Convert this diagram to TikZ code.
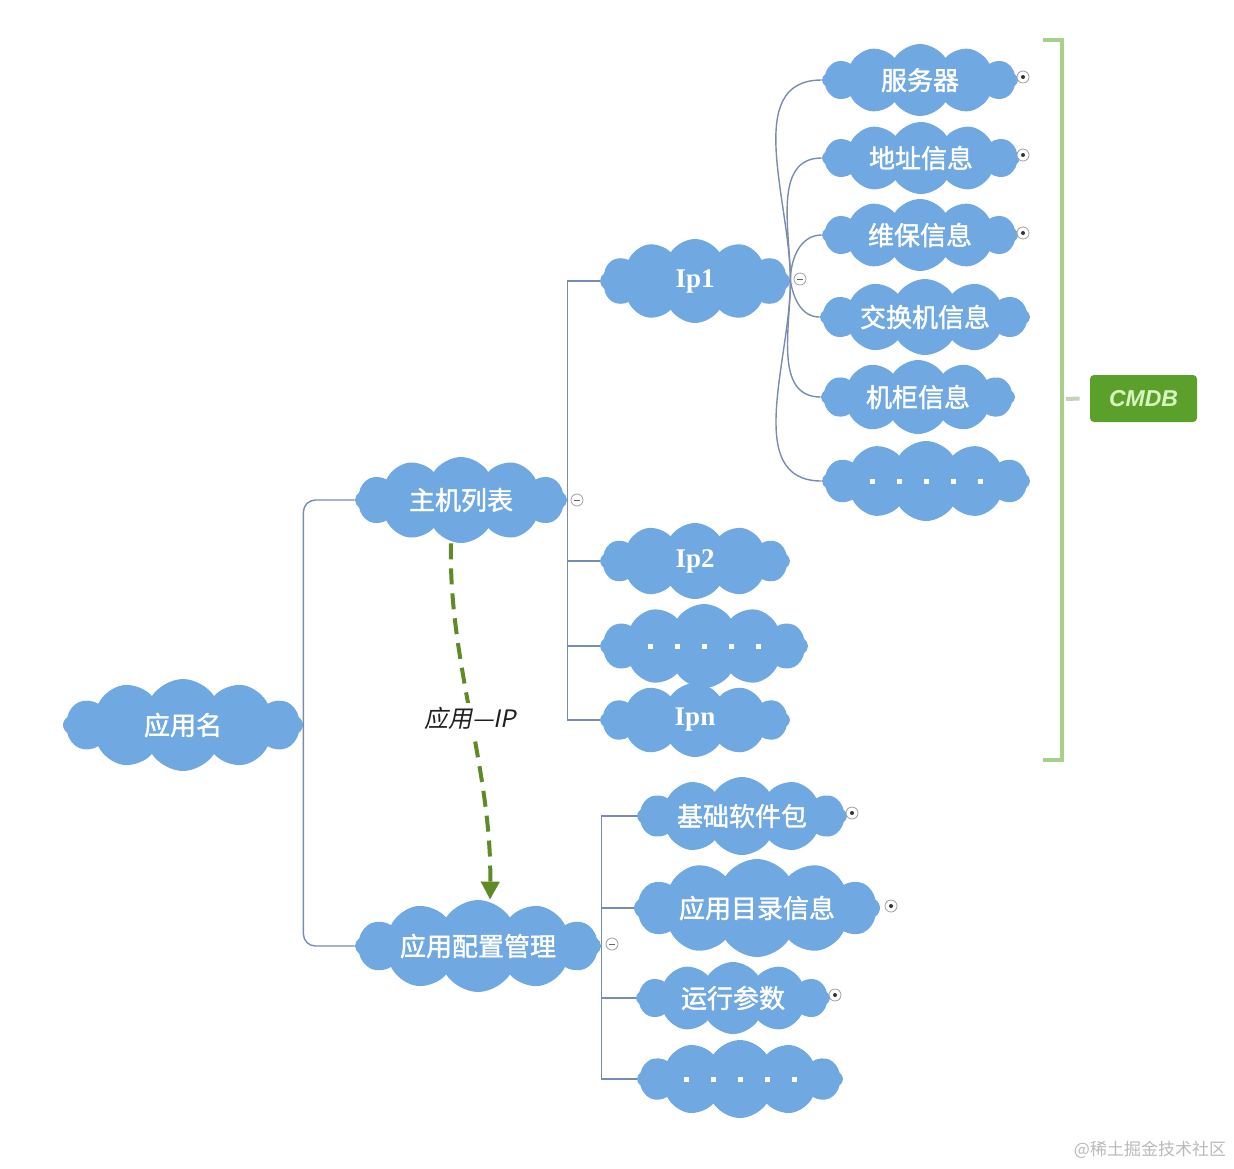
\documentclass[tikz,border=0pt]{standalone}
\usepackage{fontspec}
\newfontfamily\cjk[AutoFakeBold=1.5,AutoFakeSlant=0.2]{Noto Sans CJK SC}
\newfontfamily\serifb{Liberation Serif}
\newfontfamily\sansf{Liberation Sans}
\usetikzlibrary{shapes.symbols,arrows.meta,calc}
\definecolor{cloudblue}{RGB}{112,168,226}
\definecolor{linkc}{RGB}{120,140,178}
\definecolor{brgreen}{RGB}{168,208,138}
\definecolor{tickc}{RGB}{196,210,186}
\definecolor{cmdbg}{RGB}{92,160,44}
\definecolor{cmdbt}{RGB}{215,245,190}
\definecolor{dashg}{RGB}{95,138,38}
\newcommand\fivedots{\raisebox{-2pt}{\rule{2.5pt}{2.5pt}\hspace{11pt}\rule{2.5pt}{2.5pt}\hspace{11pt}\rule{2.5pt}{2.5pt}\hspace{11pt}\rule{2.5pt}{2.5pt}\hspace{11pt}\rule{2.5pt}{2.5pt}}}
\tikzset{
  cl/.style={cloud, cloud puffs=12, cloud puff arc=115, cloud ignores aspect,
    fill=cloudblue, draw=none, inner sep=0pt, text=white,
    font=\cjk\bfseries\fontsize{13}{15}\selectfont},
  ipcl/.style={cl, font=\serifb\bfseries\fontsize{13.5}{15}\selectfont},
  link/.style={draw=linkc, line width=0.7pt},
  mk/.style={circle, draw=gray!75, line width=0.4pt, minimum size=6pt, inner sep=0pt, fill=white},
  mkminus/.style={mk, path picture={\draw[gray!80!black, line width=0.4pt]
      ([xshift=-1.6pt]path picture bounding box.center) -- ([xshift=1.6pt]path picture bounding box.center);}},
  mkplus/.style={mk, path picture={\fill[gray!40!black] (path picture bounding box.center) circle (1pt);}},
  dasharrow/.style={draw=dashg, line width=2pt, dash pattern=on 8pt off 4.5pt,
    -{Triangle[length=9pt,width=9pt]}},
  lbl/.style={fill=white, inner sep=2pt, text=gray!25!black,
    font=\cjk\itshape\fontsize{12}{14}\selectfont},
  cmdbbox/.style={fill=cmdbg, rounded corners=2pt, minimum width=53.5pt, minimum height=23.5pt,
    inner sep=0pt, text=cmdbt, font=\sansf\bfseries\itshape\fontsize{11.5}{13}\selectfont},
  bracketline/.style={draw=brgreen, line width=2pt},
  ticklink/.style={draw=tickc, line width=2pt},
  wm/.style={text=gray!55, inner sep=0pt, font=\cjk\fontsize{8.5}{10}\selectfont}
}
\begin{document}
\begin{tikzpicture}[x=0.5pt,y=-0.5pt]
\useasboundingbox (0,0) rectangle (1234,1168);
% main nodes
\node[cl, minimum width=120pt, minimum height=46pt] (app) at (183,725) {应用名};
\node[cl, minimum width=106pt, minimum height=43pt] (host) at (461,500) {主机列表};
\node[cl, minimum width=123pt, minimum height=46pt] (cfg) at (478,946) {应用配置管理};
% ip level
\node[ipcl, minimum width=95pt, minimum height=42pt] (ip1) at (695,281) {Ip1};
\node[ipcl, minimum width=95pt, minimum height=38pt] (ip2) at (695,561) {Ip2};
\node[cl, minimum width=104pt, minimum height=42pt] (ipd) at (704,646) {\fivedots};
\node[ipcl, minimum width=95pt, minimum height=37pt] (ipn) at (695,720) {Ipn};
% ip1 children
\node[cl, minimum width=98pt, minimum height=36pt] (srv) at (920,80) {服务器};
\node[cl, minimum width=99pt, minimum height=36pt] (addr) at (921,158) {地址信息};
\node[cl, minimum width=98pt, minimum height=36pt] (wb) at (920,235) {维保信息};
\node[cl, minimum width=105pt, minimum height=38pt] (sw) at (925,317) {交换机信息};
\node[cl, minimum width=97pt, minimum height=37pt] (cab) at (918,397) {机柜信息};
\node[cl, minimum width=104pt, minimum height=40pt] (dd1) at (926,481) {\fivedots};
% config children
\node[cl, minimum width=105pt, minimum height=39pt] (jc) at (742,816) {基础软件包};
\node[cl, minimum width=123pt, minimum height=49pt] (ml) at (757,908) {应用目录信息};
\node[cl, minimum width=97pt, minimum height=36pt] (yx) at (733,998) {运行参数};
\node[cl, minimum width=103pt, minimum height=39pt] (dd3) at (740,1079) {\fivedots};
% root connectors
\draw[link, rounded corners=6pt] (host.west) -| (app.east) |- (cfg.west);
% host connectors
\draw[link] (ip1.west) -| (host.east) |- (ipn.west);
\draw[link] (host.east) |- (ip2.west);
\draw[link] (host.east) |- (ipd.west);
% cfg connectors
\draw[link] (jc.west) -| (cfg.east) |- (dd3.west);
\draw[link] (cfg.east) |- (ml.west);
\draw[link] (cfg.east) |- (yx.west);
% ip1 curves
\draw[link] (ip1.east) to[out=90,in=180] (srv.west);
\draw[link] (ip1.east) to[out=90,in=180] (addr.west);
\draw[link] (ip1.east) to[out=90,in=180] (wb.west);
\draw[link] (ip1.east) to[out=-80,in=180] (sw.west);
\draw[link] (ip1.east) to[out=-90,in=180] (cab.west);
\draw[link] (ip1.east) to[out=-90,in=180] (dd1.west);
% markers
\node[mkminus] (m1) at (577,500) {};
\node[mkminus] (m2) at (800,279) {};
\node[mkminus] (m3) at (612,944) {};
\node[mkplus] (p1) at (1023,77) {};
\node[mkplus] (p2) at (1023,155) {};
\node[mkplus] (p3) at (1023,233) {};
\node[mkplus] (p4) at (852,813) {};
\node[mkplus] (p5) at (891,906) {};
\node[mkplus] (p6) at (835,995) {};
% dashed relation
\draw[dasharrow] ([xshift=-5pt]host.south) .. controls (448,660) and (492,770) .. ([xshift=6pt]cfg.north);
\node[lbl] (rel) at (470,718) {应用—IP};
% CMDB bracket
\coordinate (bt) at (1043,40);
\coordinate (bb) at (1043,760);
\draw[bracketline] (bt) -- ++(19,0) |- (bb);
\node[cmdbbox] (cmdb) at (1143.5,398.5) {CMDB};
\coordinate (tk) at (1066,399);
\draw[ticklink] (tk) -- ([xshift=-5pt]cmdb.west);
% watermark
\node[wm] (wmk) at (1150,1150) {@稀土掘金技术社区};
\end{tikzpicture}
\end{document}
